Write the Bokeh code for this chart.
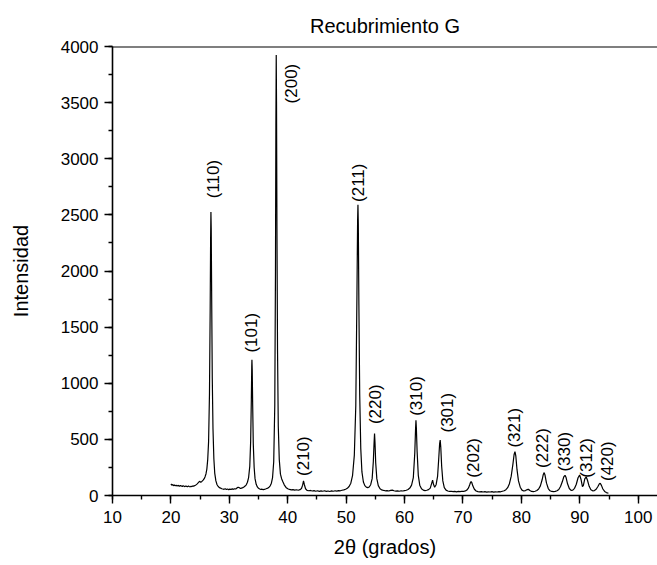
import math

from bokeh.core.properties import value
from bokeh.embed import file_html
from bokeh.models import ColumnDataSource, Range1d, SingleIntervalTicker, Span
from bokeh.plotting import figure
from bokeh.resources import INLINE

# Diffraction pattern: 2-theta (degrees) and counts
two_theta = [
    20.00, 20.15, 20.30, 20.45, 20.60, 20.75, 20.90, 21.05, 21.20, 21.35,
    21.50, 21.65, 21.80, 21.95, 22.10, 22.25, 22.40, 22.55, 22.70, 22.85,
    23.00, 23.15, 23.30, 23.45, 23.60, 23.75, 23.90, 24.05, 24.20, 24.35,
    24.50, 24.65, 24.80, 24.95, 25.10, 25.25, 25.40, 25.55, 25.70, 25.85,
    26.00, 26.15, 26.30, 26.45, 26.60, 26.72, 26.80, 26.85, 26.90, 26.98,
    27.08, 27.20, 27.35, 27.50, 27.70, 27.90, 28.10, 28.30, 28.50, 28.70,
    28.90, 29.10, 29.30, 29.50, 29.70, 29.90, 30.10, 30.30, 30.50, 30.70,
    30.90, 31.10, 31.30, 31.50, 31.70, 31.90, 32.10, 32.30, 32.50, 32.70,
    32.90, 33.10, 33.30, 33.50, 33.65, 33.77, 33.84, 33.87, 33.92, 34.00,
    34.10, 34.25, 34.40, 34.60, 34.80, 35.00, 35.20, 35.40, 35.60, 35.80,
    36.00, 36.20, 36.40, 36.60, 36.80, 37.00, 37.20, 37.40, 37.60, 37.78,
    37.90, 37.97, 38.03, 38.08, 38.15, 38.25, 38.38, 38.55, 38.75, 38.95,
    39.15, 39.40, 39.70, 40.00, 40.30, 40.60, 40.90, 41.20, 41.50, 41.80,
    42.10, 42.35, 42.55, 42.70, 42.85, 43.05, 43.30, 43.60, 43.90, 44.20,
    44.50, 44.80, 45.10, 45.40, 45.70, 46.00, 46.30, 46.60, 46.90, 47.20,
    47.50, 47.80, 48.10, 48.40, 48.70, 49.00, 49.30, 49.60, 49.90, 50.20,
    50.50, 50.80, 51.10, 51.40, 51.65, 51.85, 51.96, 52.02, 52.08, 52.18,
    52.32, 52.50, 52.70, 52.95, 53.20, 53.45, 53.70, 53.95, 54.20, 54.45,
    54.65, 54.78, 54.86, 54.94, 55.06, 55.25, 55.50, 55.80, 56.10, 56.40,
    56.70, 57.00, 57.30, 57.60, 57.90, 58.20, 58.50, 58.80, 59.10, 59.40,
    59.70, 60.00, 60.30, 60.60, 60.90, 61.20, 61.50, 61.75, 61.88, 61.95,
    62.02, 62.15, 62.35, 62.60, 62.90, 63.20, 63.50, 63.80, 64.10, 64.40,
    64.65, 64.80, 64.95, 65.15, 65.40, 65.65, 65.85, 66.00, 66.10, 66.20,
    66.35, 66.55, 66.80, 67.10, 67.40, 67.70, 68.00, 68.30, 68.60, 68.90,
    69.20, 69.50, 69.80, 70.10, 70.40, 70.70, 70.95, 71.15, 71.30, 71.40,
    71.50, 71.70, 71.95, 72.25, 72.55, 72.85, 73.15, 73.45, 73.75, 74.05,
    74.35, 74.65, 74.95, 75.25, 75.55, 75.85, 76.15, 76.45, 76.75, 77.05,
    77.35, 77.65, 77.95, 78.25, 78.55, 78.75, 78.90, 79.05, 79.25, 79.50,
    79.80, 80.10, 80.40, 80.70, 80.95, 81.20, 81.45, 81.75, 82.05, 82.35,
    82.65, 82.95, 83.25, 83.55, 83.75, 83.90, 84.05, 84.30, 84.60, 84.90,
    85.20, 85.50, 85.80, 86.10, 86.40, 86.70, 87.00, 87.25, 87.47, 87.65,
    87.90, 88.20, 88.50, 88.80, 89.10, 89.40, 89.70, 89.97, 90.20, 90.45,
    90.60, 90.85, 91.10, 91.30, 91.60, 91.90, 92.20, 92.50, 92.80, 93.10,
    93.35, 93.50, 93.70, 93.95, 94.25, 94.55, 94.90,
]
intensity = [
    104, 92, 97, 88, 93, 86, 91, 84, 90, 86,
    82, 89, 85, 80, 87, 83, 79, 85, 81, 78,
    84, 80, 77, 83, 79, 86, 82, 88, 91, 97,
    104, 112, 121, 126, 118, 123, 131, 139, 150, 168,
    192, 235, 320, 480, 900, 1650, 2300, 2525, 2380, 1750,
    1050, 600, 330, 200, 130, 96, 80, 70, 66, 60,
    58, 55, 60, 54, 58, 52, 57, 53, 59, 55,
    60, 58, 66, 74, 70, 62, 66, 70, 76, 84,
    95, 118, 160, 260, 480, 860, 1150, 1210, 1120, 800,
    460, 250, 150, 100, 76, 64, 58, 54, 56, 52,
    55, 58, 62, 66, 74, 86, 110, 160, 300, 800,
    2000, 3300, 3925, 3500, 2400, 1300, 620, 320, 190, 150,
    125, 95, 72, 60, 54, 50, 52, 48, 51, 47,
    52, 62, 92, 130, 96, 60, 46, 42, 45, 40,
    43, 38, 42, 37, 41, 38, 42, 37, 40, 36,
    41, 38, 42, 39, 44, 42, 47, 50, 56, 64,
    80, 110, 180, 360, 800, 1800, 2450, 2590, 2420, 1700,
    900, 420, 210, 120, 88, 74, 70, 76, 96, 150,
    300, 470, 552, 470, 290, 150, 88, 60, 50, 45,
    42, 44, 40, 46, 48, 42, 39, 41, 38, 42,
    40, 44, 47, 54, 66, 92, 160, 380, 590, 671,
    600, 390, 180, 92, 60, 48, 44, 47, 52, 66,
    110, 136, 100, 74, 96, 170, 330, 460, 493, 430,
    260, 130, 70, 48, 40, 36, 38, 34, 37, 33,
    36, 34, 38, 36, 41, 50, 68, 96, 118, 123,
    116, 84, 56, 40, 34, 32, 35, 31, 34, 30,
    33, 31, 34, 30, 33, 31, 35, 33, 38, 42,
    52, 70, 105, 170, 280, 365, 391, 350, 230, 130,
    74, 48, 40, 44, 52, 55, 44, 36, 34, 38,
    44, 58, 86, 140, 188, 204, 180, 110, 62, 42,
    36, 34, 37, 42, 54, 80, 122, 165, 180, 160,
    104, 62, 46, 48, 64, 100, 158, 183, 145, 80,
    88, 148, 165, 138, 82, 52, 42, 44, 56, 80,
    104, 109, 90, 58, 36, 26, 20,
]

# Miller indices of the reflections and where their tags sit
hkl = ["(110)", "(101)", "(200)", "(210)", "(211)", "(220)", "(310)",
       "(301)", "(202)", "(321)", "(222)", "(330)", "(312)", "(420)"]
hkl_x = [27.29, 33.87, 40.72, 42.70, 52.12, 54.98, 62.12,
         67.36, 71.82, 78.78, 83.53, 87.34, 91.23, 94.66]
hkl_y = [2648, 1273, 3493, 174, 2615, 636, 710,
         561, 159, 427, 246, 213, 159, 129]

FONT = "Liberation Sans"

p = figure(
    width=657, height=565,
    output_backend="svg", toolbar_location=None,
    x_range=Range1d(10, 103.3), y_range=Range1d(0, 4000),
    min_border_left=112, min_border_right=0,
    min_border_top=46, min_border_bottom=70,
    title="Recubrimiento G",
)
p.title.align = "center"
p.title.text_font = FONT
p.title.text_font_size = "20px"
p.title.text_font_style = "normal"
p.title.text_color = "black"
p.title.standoff = 20

p.grid.visible = False
p.outline_line_color = None
p.background_fill_color = "white"
p.border_fill_color = "white"

p.xaxis.ticker = SingleIntervalTicker(interval=10, num_minor_ticks=2)
p.yaxis.ticker = SingleIntervalTicker(interval=500, num_minor_ticks=2)
p.xaxis.axis_label = "2θ (grados)"
p.yaxis.axis_label = "Intensidad"

for ax in (p.xaxis[0], p.yaxis[0]):
    ax.axis_line_color = "black"
    ax.axis_line_width = 1.6
    ax.major_tick_line_color = "black"
    ax.major_tick_line_width = 1.4
    ax.minor_tick_line_color = "black"
    ax.minor_tick_line_width = 1.4
    ax.major_tick_in = 0
    ax.major_tick_out = 8
    ax.minor_tick_in = 0
    ax.minor_tick_out = 4
    ax.major_label_text_font = FONT
    ax.major_label_text_font_size = "17px"
    ax.major_label_text_color = "black"
    ax.axis_label_text_font = FONT
    ax.axis_label_text_font_size = "20px"
    ax.axis_label_text_font_style = "normal"
    ax.axis_label_text_color = "black"

p.xaxis.major_label_standoff = 7
p.xaxis.axis_label_standoff = 10
p.yaxis.major_label_standoff = 6
p.yaxis.axis_label_standoff = 26
p.yaxis.major_label_orientation = "horizontal"

# top edge of the frame
p.add_layout(Span(location=4000, dimension="width",
                  line_color="black", line_width=2))

p.line(two_theta, intensity, line_color="black", line_width=1.2)

tags = ColumnDataSource(dict(x=hkl_x, y=hkl_y, text=hkl))
p.text(x="x", y="y", text="text", source=tags,
       angle=math.pi / 2, text_align="left", text_baseline="middle",
       text_font=value(FONT), text_font_size="17px", text_color="black")

open("out.html", "w").write(file_html(p, INLINE))
